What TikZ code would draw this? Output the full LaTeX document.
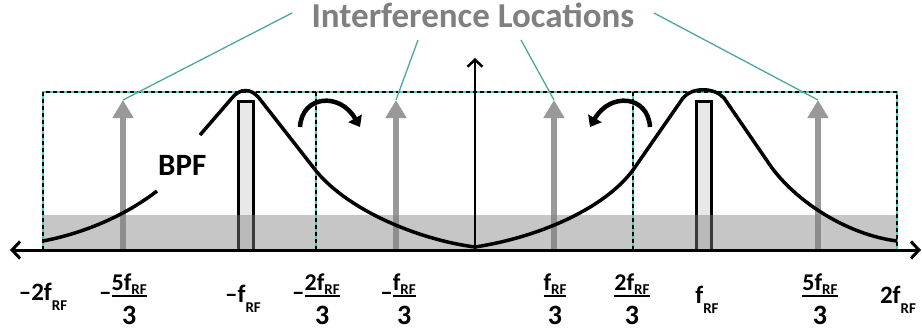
\documentclass[tikz,border=0pt]{standalone}
\usepackage{fontspec}
\setmainfont{Carlito}
\usepackage{tikz}
\usetikzlibrary{arrows.meta}

\definecolor{leadcyan}{RGB}{64,208,192}
\definecolor{intgray}{RGB}{153,153,153}
\definecolor{txtgray}{RGB}{128,128,128}

\newcommand{\fRF}{f\raisebox{-10pt}{\fontsize{15}{15}\selectfont RF}}
\newcommand{\fRFn}{f\raisebox{-4pt}{\fontsize{15}{15}\selectfont RF}}
\newcommand{\mns}{\raisebox{-10pt}{–}}
\newcommand{\stackfrac}[2]{\vtop{\offinterlineskip
  \halign{\hfil##\hfil\cr
    \fontsize{24}{24}\selectfont #1\cr
    \noalign{\kern0.5pt\hrule height 2.2pt\kern9pt}
    \fontsize{28}{28}\selectfont #2\cr}}}

\begin{document}
\begin{tikzpicture}[x=1pt, y=-1pt,
    lbl/.style={font=\fontsize{25}{30}\selectfont\bfseries, inner sep=0pt},
    axisline/.style={line width=3pt, {Straight Barb[length=8pt, width=17pt]}-{Straight Barb[length=8pt, width=17pt]}},
    vaxis/.style={line width=2.5pt, -{Straight Barb[length=7pt, width=15pt]}},
    intarrow/.style={draw=intgray, line width=6pt, -{Triangle[width=20pt, length=18pt]}},
    filterbox/.style={draw, line width=3pt, fill=gray!18},
    band/.style={fill=gray, fill opacity=0.45},
    dashbox/.style={preaction={draw=leadcyan, line width=1.1pt}, draw=black, line width=1.1pt, dash pattern=on 4pt off 3pt},
    bpfline/.style={line width=3.5pt, line join=round},
    turn/.style={line width=4.5pt, -{Triangle[width=15pt, length=10pt]}},
    leader/.style={draw=leadcyan, double=gray, line width=0.45pt, double distance=0.5pt},
]
    \useasboundingbox (0,0) rectangle (922,333);

    % interference tones
    \foreach \x/\n in {123/ia, 396/ib, 554/ic, 818/id} {
        \coordinate (\n) at (\x,100);
        \draw[intarrow] (\x,250) -- (\n);
    }

    % wanted signal at -fRF and fRF
    \draw[filterbox] (238.5,101.5) rectangle (253.5,250);
    \draw[filterbox] (696.5,101.5) rectangle (711.5,250);

    \fill[band] (43,215) rectangle (897,250);

    \draw[dashbox] (43,250) -- (43,92) -- (897,92) -- (897,250);
    \draw[dashbox] (316,92) -- (316,250);
    \draw[dashbox] (633,92) -- (633,250);

    % BPF responses
    \draw[bpfline] (43,241) .. controls (90,232) and (130,212) .. (157,191);
    \draw[bpfline] (200,135) -- (232,98) .. controls (240,88) and (251,88) .. (259,98)
        -- (313,167) .. controls (345,210) and (420,240) .. (475,247);
    \draw[bpfline] (475,247) .. controls (540,237) and (605,208) .. (633,170)
        -- (683,98) .. controls (692,87) and (714,87) .. (724,98)
        -- (772,168) .. controls (800,205) and (850,235) .. (897,241);

    \coordinate (xl) at (10,250);
    \coordinate (xr) at (921,250);
    \coordinate (o) at (475,250);
    \coordinate (yt) at (475,58);
    \draw[axisline] (xl) -- (xr);
    \draw[vaxis] (o) -- (yt);

    % folding arrows
    \draw[turn] (300,127) .. controls (302,95) and (340,92) .. (360,127);
    \draw[turn] (650,127) .. controls (648,95) and (610,92) .. (590,127);

    \node[lbl, anchor=base, text=txtgray, font=\fontsize{35}{40}\selectfont\bfseries] (intf) at (473,27) {Interference Locations};
    \node[lbl, anchor=base west, font=\fontsize{31}{36}\selectfont\bfseries] (bpf) at (158,175) {BPF};

    \coordinate (l1) at (292,13);
    \coordinate (l2) at (418,40);
    \coordinate (l3) at (521,40);
    \coordinate (l4) at (654,13);
    \draw[leader] (l1) -- (ia);
    \draw[leader] (l2) -- (ib);
    \draw[leader] (l3) -- (ic);
    \draw[leader] (l4) -- (id);

    % frequency labels
    \node[lbl, anchor=base] (lm2) at (43,300) {–2\fRF};
    \node[lbl, anchor=base] (lm53) at (123,290) {\mns\stackfrac{5\fRFn}{3}};
    \node[lbl, anchor=base] (lm1) at (243,302) {–\fRF};
    \node[lbl, anchor=base] (lm23) at (316,290) {\mns\stackfrac{2\fRFn}{3}};
    \node[lbl, anchor=base] (lm13) at (398,290) {\mns\stackfrac{\fRFn}{3}};
    \node[lbl, anchor=base] (lp13) at (555,290) {\stackfrac{\fRFn}{3}};
    \node[lbl, anchor=base] (lp23) at (632,290) {\stackfrac{2\fRFn}{3}};
    \node[lbl, anchor=base] (lp1) at (707,303) {\fRF};
    \node[lbl, anchor=base] (lp53) at (820,290) {\stackfrac{5\fRFn}{3}};
    \node[lbl, anchor=base] (lp2) at (898,303) {2\fRF};
\end{tikzpicture}
\end{document}
